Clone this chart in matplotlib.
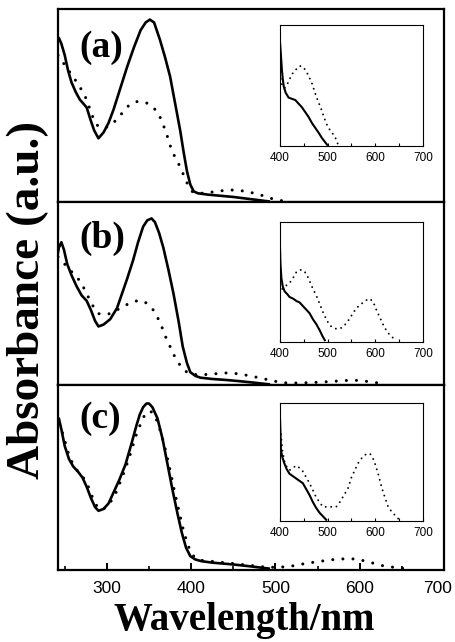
import numpy as np
import matplotlib.pyplot as plt
import matplotlib.transforms as mtransforms
from matplotlib.ticker import MultipleLocator

# main spectra (normalised absorbance)
wl_a_solid = [241, 243, 246, 250, 254, 258, 263, 268, 272, 276, 281, 285, 290, 296, 302, 308, 316, 324,
              332, 340, 346, 351, 356, 363, 369, 375, 381, 387, 391, 395, 399, 403, 408, 420, 435, 450, 470, 492]
ab_a_solid = [0.83, 0.85, 0.82, 0.76, 0.68, 0.62, 0.57, 0.53, 0.51, 0.49, 0.42, 0.37, 0.33, 0.36, 0.41, 0.48,
              0.59, 0.70, 0.80, 0.89, 0.93, 0.945, 0.93, 0.84, 0.75, 0.65, 0.51, 0.37, 0.26, 0.16, 0.09,
              0.055, 0.045, 0.038, 0.032, 0.026, 0.015, 0.003]
wl_a_dot = [242, 250, 258, 266, 274, 280, 285, 290, 296, 302, 310, 318, 326, 334, 342, 349, 355, 361, 366,
            371, 376, 381, 386, 391, 396, 401, 406, 412, 420, 430, 440, 450, 460, 470, 480, 490, 500, 510]
ab_a_dot = [0.76, 0.71, 0.66, 0.61, 0.55, 0.48, 0.42, 0.39, 0.385, 0.39, 0.42, 0.46, 0.50, 0.52, 0.52, 0.51,
            0.49, 0.46, 0.41, 0.35, 0.28, 0.23, 0.19, 0.14, 0.09, 0.055, 0.045, 0.045, 0.048, 0.055, 0.06,
            0.062, 0.058, 0.05, 0.04, 0.025, 0.012, 0.005]

wl_b_solid = [241, 243, 246, 249, 253, 258, 264, 270, 276, 281, 286, 290, 296, 304, 312, 318, 324, 331, 337,
              343, 348, 353, 357, 362, 367, 373, 379, 385, 390, 395, 399, 405, 411, 425, 440, 455, 470, 492]
ab_b_solid = [0.70, 0.75, 0.78, 0.74, 0.66, 0.60, 0.54, 0.49, 0.46, 0.41, 0.35, 0.32, 0.33, 0.36, 0.42, 0.50,
              0.58, 0.68, 0.78, 0.865, 0.90, 0.91, 0.89, 0.83, 0.75, 0.63, 0.50, 0.35, 0.21, 0.12, 0.07,
              0.05, 0.04, 0.033, 0.028, 0.022, 0.015, 0.004]
wl_b_dot = [242, 250, 258, 266, 274, 280, 285, 290, 296, 304, 312, 320, 328, 336, 343, 349, 355, 360, 365,
            370, 375, 380, 385, 390, 396, 403, 411, 425, 440, 455, 470, 485, 500, 515, 535, 555, 575, 592,
            605, 618, 630]
ab_b_dot = [0.70, 0.66, 0.62, 0.58, 0.52, 0.46, 0.42, 0.39, 0.385, 0.39, 0.41, 0.43, 0.45, 0.46, 0.46, 0.44,
            0.41, 0.37, 0.32, 0.26, 0.21, 0.16, 0.12, 0.09, 0.066, 0.058, 0.055, 0.06, 0.066, 0.062, 0.05,
            0.035, 0.02, 0.01, 0.012, 0.016, 0.022, 0.027, 0.022, 0.014, 0.005]

wl_c_solid = [241, 243, 246, 250, 255, 260, 266, 271, 276, 281, 286, 290, 296, 302, 308, 315, 322, 329, 335,
              339, 343, 347, 350, 354, 360, 366, 372, 378, 384, 389, 394, 399, 405, 412, 425, 450, 470, 492]
ab_c_solid = [0.80, 0.82, 0.76, 0.67, 0.60, 0.56, 0.53, 0.50, 0.45, 0.39, 0.34, 0.32, 0.33, 0.36, 0.42,
              0.49, 0.57, 0.68, 0.78, 0.84, 0.88, 0.90, 0.90, 0.88, 0.82, 0.71, 0.57, 0.43, 0.30, 0.20,
              0.12, 0.075, 0.057, 0.048, 0.04, 0.03, 0.02, 0.008]
wl_c_dot = [242, 246, 250, 255, 260, 266, 272, 278, 284, 290, 296, 302, 310, 318, 326, 334, 340, 345, 350,
            355, 360, 365, 370, 375, 380, 385, 390, 395, 400, 406, 415, 430, 450, 470, 490, 505, 520, 535,
            550, 565, 580, 595, 610, 625, 640, 653]
ab_c_dot = [0.79, 0.76, 0.70, 0.62, 0.57, 0.53, 0.50, 0.45, 0.38, 0.33, 0.33, 0.35, 0.41, 0.50, 0.60, 0.72,
            0.79, 0.84, 0.86, 0.85, 0.80, 0.73, 0.64, 0.54, 0.43, 0.33, 0.23, 0.15, 0.09, 0.06, 0.05, 0.045,
            0.035, 0.025, 0.015, 0.015, 0.022, 0.035, 0.045, 0.055, 0.06, 0.06, 0.045, 0.025, 0.015, 0.008]

# inset spectra (400-700 nm, expanded scale)
iwl_a_solid = [400, 402, 404, 406, 408, 412, 418, 425, 432, 439, 446, 453, 460, 467, 474, 481, 488, 494, 499]
iab_a_solid = [0.86, 0.75, 0.63, 0.55, 0.49, 0.44, 0.40, 0.39, 0.38, 0.35, 0.32, 0.28, 0.24, 0.19, 0.15,
               0.11, 0.066, 0.035, 0.01]
iwl_a_dot = [400, 402, 405, 410, 414, 420, 425, 430, 436, 441, 446, 451, 456, 461, 466, 471, 476, 482, 487,
             493, 500, 507, 515, 521]
iab_a_dot = [0.60, 0.55, 0.49, 0.48, 0.50, 0.55, 0.59, 0.62, 0.64, 0.66, 0.66, 0.64, 0.61, 0.57, 0.53, 0.47,
             0.41, 0.35, 0.30, 0.23, 0.16, 0.12, 0.08, 0.02]

iwl_b_solid = [400, 401, 403, 406, 410, 415, 420, 428, 435, 441, 448, 455, 462, 469, 476, 483, 489, 494]
iab_b_solid = [0.79, 0.65, 0.53, 0.46, 0.42, 0.40, 0.375, 0.36, 0.34, 0.33, 0.30, 0.27, 0.24, 0.19, 0.15,
               0.10, 0.05, 0.015]
iwl_b_dot = [401, 404, 408, 413, 420, 427, 434, 441, 448, 455, 461, 466, 472, 478, 483, 490, 497, 504, 511,
             518, 525, 532, 540, 547, 553, 560, 568, 575, 582, 589, 596, 603, 610, 617, 624, 631, 637, 642]
iab_b_dot = [0.48, 0.44, 0.45, 0.47, 0.49, 0.53, 0.58, 0.60, 0.60, 0.57, 0.52, 0.47, 0.42, 0.37, 0.32, 0.25,
             0.19, 0.14, 0.12, 0.11, 0.11, 0.125, 0.16, 0.20, 0.24, 0.28, 0.31, 0.33, 0.35, 0.36, 0.33, 0.26,
             0.20, 0.14, 0.09, 0.056, 0.035, 0.02]

iwl_c_solid = [400, 401, 402, 405, 409, 414, 420, 427, 434, 441, 448, 455, 462, 469, 476, 483, 490, 497]
iab_c_solid = [0.88, 0.75, 0.60, 0.54, 0.49, 0.44, 0.40, 0.38, 0.36, 0.34, 0.32, 0.27, 0.22, 0.16, 0.11,
               0.07, 0.04, 0.01]
iwl_c_dot = [400, 402, 405, 409, 414, 420, 427, 434, 441, 448, 455, 462, 469, 476, 483, 490, 497, 504, 511,
             518, 524, 530, 536, 543, 550, 557, 564, 571, 578, 584, 589, 594, 599, 606, 613, 620, 627, 634,
             641, 648]
iab_c_dot = [0.78, 0.74, 0.60, 0.51, 0.46, 0.43, 0.45, 0.47, 0.45, 0.42, 0.37, 0.32, 0.26, 0.20, 0.16, 0.12,
             0.12, 0.12, 0.12, 0.12, 0.15, 0.19, 0.23, 0.28, 0.37, 0.43, 0.49, 0.53, 0.56, 0.57, 0.57, 0.54,
             0.49, 0.40, 0.29, 0.20, 0.12, 0.08, 0.05, 0.02]

panel_labels = ["(a)", "(b)", "(c)"]
main_ticks = [300, 400, 500, 600, 700]
inset_ticks = [400, 500, 600, 700]

serif = "Liberation Serif"
sans = "Liberation Sans"

fig = plt.figure(figsize=(4.56, 6.42), dpi=100)

# panel geometry in figure fractions
main_boxes = [
    [0.1272, 0.6854, 0.8465, 0.3006],
    [0.1272, 0.4003, 0.8465, 0.2851],
    [0.1272, 0.1121, 0.8465, 0.2882],
]
inset_boxes = [
    [0.614, 0.7726, 0.3136, 0.1885],
    [0.614, 0.4673, 0.3136, 0.1870],
    [0.614, 0.1885, 0.3136, 0.1838],
]
label_y = [0.80, 0.80, 0.82]

main_data = [
    (wl_a_solid, ab_a_solid, wl_a_dot, ab_a_dot),
    (wl_b_solid, ab_b_solid, wl_b_dot, ab_b_dot),
    (wl_c_solid, ab_c_solid, wl_c_dot, ab_c_dot),
]
inset_data = [
    (iwl_a_solid, iab_a_solid, iwl_a_dot, iab_a_dot),
    (iwl_b_solid, iab_b_solid, iwl_b_dot, iab_b_dot),
    (iwl_c_solid, iab_c_solid, iwl_c_dot, iab_c_dot),
]

for i in range(3):
    ax = fig.add_axes(main_boxes[i])
    ws, ys, wd, yd = main_data[i]
    ax.plot(ws, ys, color="black", lw=1.9, solid_joinstyle="round")
    ax.plot(wd, yd, color="black", lw=2.2, linestyle=(0, (0.01, 3.3)), dash_capstyle="round")
    ax.set_xlim(242, 700)
    ax.set_ylim(0, 1)
    ax.set_yticks([])
    for s in ax.spines.values():
        s.set_linewidth(1.6)
    if i < 2:
        ax.set_xticks([])
    else:
        ax.set_xticks(main_ticks)
        ax.xaxis.set_minor_locator(MultipleLocator(50))
        ax.tick_params(axis="x", which="major", direction="in", length=5, width=1.4, pad=8,
                       labelsize=12.5)
        ax.tick_params(axis="x", which="minor", direction="in", length=3, width=1.2)
        labs = ax.get_xticklabels()
        for lab in labs:
            lab.set_fontfamily(sans)
        # last label sits a little left of its tick, as in the original
        shift = mtransforms.ScaledTranslation(-5 / 72, 0, fig.dpi_scale_trans)
        labs[-1].set_transform(labs[-1].get_transform() + shift)
    ax.text(0.055, label_y[i], panel_labels[i], transform=ax.transAxes, fontsize=27,
            fontweight="bold", family=serif, va="center", ha="left")

    ins = fig.add_axes(inset_boxes[i])
    ws, ys, wd, yd = inset_data[i]
    ins.plot(ws, ys, color="black", lw=1.5)
    ins.plot(wd, yd, color="black", lw=1.4, linestyle=(0, (0.01, 2.8)), dash_capstyle="round")
    ins.set_xlim(400, 700)
    ins.set_ylim(0, 1)
    ins.set_yticks([])
    ins.set_xticks(inset_ticks)
    ins.xaxis.set_minor_locator(MultipleLocator(50))
    ins.tick_params(axis="x", which="major", direction="in", length=2.5, width=0.8, pad=4, labelsize=8.5)
    ins.tick_params(axis="x", which="minor", direction="in", length=2, width=0.8)
    for lab in ins.get_xticklabels():
        lab.set_fontfamily(sans)
    for s in ins.spines.values():
        s.set_linewidth(0.8)

fig.text(0.062, 0.533, "Absorbance (a.u.)", rotation=90, fontsize=34, fontweight="bold",
         family=serif, ha="center", va="center")
fig.text(0.535, 0.034, "Wavelength/nm", fontsize=28, fontweight="bold", family=serif,
         ha="center", va="center")

fig.savefig("out.png", dpi=100)
